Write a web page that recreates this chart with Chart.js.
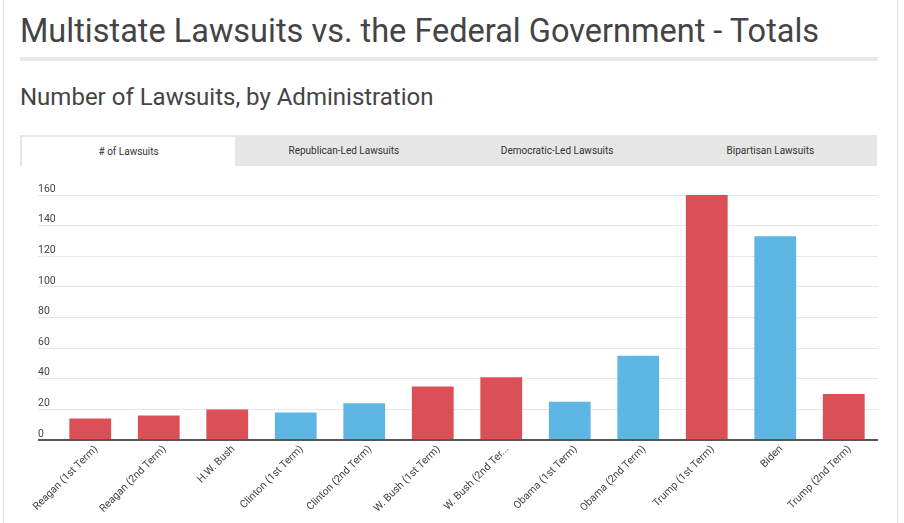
<!DOCTYPE html>
<html>
<head>
<meta charset="utf-8">
<script src="https://cdn.jsdelivr.net/npm/chart.js@4/dist/chart.umd.min.js"></script>
<style>
  body { margin: 0; width: 904px; height: 523px; overflow: hidden; background: #fff; font-family: Roboto, sans-serif; color: #444; }
  .card { position: absolute; left: 3px; top: -2px; width: 893px; height: 530px; border-left: 1px solid #e4e4e4; border-right: 1px solid #e4e4e4; }
  h1 { position: absolute; left: 20px; top: 15px; margin: 0; font-size: 32.5px; line-height: 32.5px; font-weight: 400; color: #444; white-space: nowrap; }
  .rule { position: absolute; left: 20px; top: 57px; width: 858px; height: 4px; background: #e9e9e9; }
  h2 { position: absolute; left: 20px; top: 85px; margin: 0; font-size: 24px; line-height: 24px; font-weight: 400; color: #444; white-space: nowrap; }
  .tabs { position: absolute; left: 20px; top: 135px; width: 857px; height: 31px; background: #e6e6e6; display: flex; }
  .tab { flex: 1; text-align: center; font-size: 10px; line-height: 31px; color: #333; }
  .tab.on { background: #fff; margin: 2px 2px 0 2px; line-height: 29px; }
  .wrap { position: absolute; left: 0; top: 170px; width: 904px; height: 353px; }
</style>
</head>
<body>
<div class="card"></div>
<h1>Multistate Lawsuits vs. the Federal Government - Totals</h1>
<div class="rule"></div>
<h2>Number of Lawsuits, by Administration</h2>
<div class="tabs">
  <div class="tab on"># of Lawsuits</div>
  <div class="tab">Republican-Led Lawsuits</div>
  <div class="tab">Democratic-Led Lawsuits</div>
  <div class="tab">Bipartisan Lawsuits</div>
</div>
<div class="wrap"><canvas id="myChart"></canvas></div>
<script>
const administrations = ['Reagan (1st Term)', 'Reagan (2nd Term)', 'H.W. Bush', 'Clinton (1st Term)', 'Clinton (2nd Term)',
  'W. Bush (1st Term)', 'W. Bush (2nd Term)', 'Obama (1st Term)', 'Obama (2nd Term)', 'Trump (1st Term)', 'Biden', 'Trump (2nd Term)'];
// labels as they show under the axis (one is cut off)
const tickLabels = ['Reagan (1st Term)', 'Reagan (2nd Term)', 'H.W. Bush', 'Clinton (1st Term)', 'Clinton (2nd Term)',
  'W. Bush (1st Term)', 'W. Bush (2nd Ter...', 'Obama (1st Term)', 'Obama (2nd Term)', 'Trump (1st Term)', 'Biden', 'Trump (2nd Term)'];
const lawsuits = [14, 16, 20, 18, 24, 35, 41, 25, 55, 160, 133, 30];
const party = ['R', 'R', 'R', 'D', 'D', 'R', 'R', 'D', 'D', 'R', 'D', 'R'];
const yTicks = [0, 20, 40, 60, 80, 100, 120, 140, 160];

const RED = '#db4f56';
const BLUE = '#5eb6e4';

let draw = () => {
  const ctx = document.getElementById('myChart');

  const dataset = {
    labels: administrations,
    datasets: [{
      label: '# of Lawsuits',
      data: lawsuits,
      backgroundColor: party.map(p => p === 'R' ? RED : BLUE),
      borderWidth: 0,
      barPercentage: 0.61,
      categoryPercentage: 1
    }]
  };

  const config = {
    type: 'bar',
    data: dataset,
    options: {
      responsive: true,
      maintainAspectRatio: false,
      animation: false,
      layout: { padding: { left: 38, right: 26, top: 25, bottom: 0 } },
      plugins: { legend: { display: false }, tooltip: { enabled: false } },
      scales: {
        x: {
          grid: { display: false },
          border: { display: false },
          ticks: {
            autoSkip: false,
            maxRotation: 45,
            minRotation: 45,
            padding: -5,
            labelOffset: 6,
            color: '#444',
            font: { family: 'Roboto', size: 10.5 },
            callback: (v, i) => tickLabels[i]
          },
          afterFit: (scale) => { scale.height = 83; }
        },
        y: {
          min: 0,
          max: 160,
          afterBuildTicks: (scale) => { scale.ticks = yTicks.map(v => ({ value: v })); },
          grid: {
            color: c => c.tick && c.tick.value === 0 ? '#555' : '#e7e7e7',
            tickColor: c => c.tick && c.tick.value === 0 ? '#555' : '#e7e7e7',
            lineWidth: c => c.tick && c.tick.value === 0 ? 2 : 1,
            drawTicks: true,
            tickLength: 18
          },
          border: { display: false },
          ticks: {
            mirror: true,
            padding: -18,
            labelOffset: -6,
            color: '#444',
            font: { family: 'Roboto', size: 10.5 }
          },
          afterFit: (scale) => { scale.width = 18; }
        }
      }
    }
  };
  const chart = new Chart(ctx, config);
};

draw();
</script>
</body>
</html>
